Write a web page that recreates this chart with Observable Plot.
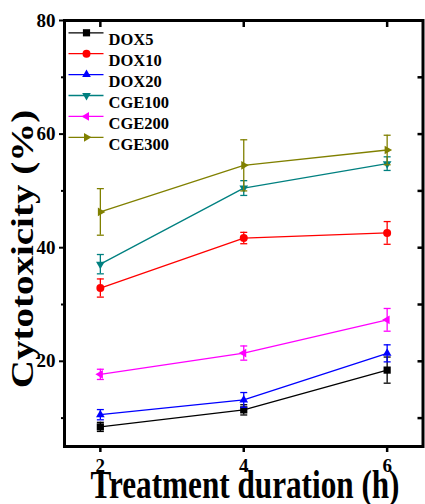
<!DOCTYPE html>
<html><head><meta charset="utf-8">
<script src="https://cdn.jsdelivr.net/npm/d3@7"></script>
<script src="https://cdn.jsdelivr.net/npm/@observablehq/plot@0.6"></script>
<style>
body{margin:0;background:#fff;}
#chart svg{display:block;}
</style></head><body><div id="chart"></div>
<script>
// ---- data ----
const durations = [2, 4, 6];
const seriesNames = ["DOX5", "DOX10", "DOX20", "CGE100", "CGE200", "CGE300"];
const seriesColors = ["#000000", "#ff0000", "#0000ff", "#008080", "#ff00ff", "#808000"];
const seriesShapes = ["square", "circle", "up", "down", "left", "right"];
const dox5 = [8.45, 11.45, 18.45];
const dox5Err = [0.8, 0.9, 2.3];
const dox10 = [32.9, 41.7, 42.6];
const dox10Err = [1.6, 1.0, 2.0];
const dox20 = [10.6, 13.2, 21.4];
const dox20Err = [0.9, 1.3, 1.5];
const cge100 = [37.1, 50.5, 54.8];
const cge100Err = [1.7, 1.3, 1.2];
const cge200 = [17.7, 21.45, 27.3];
const cge200Err = [0.9, 1.25, 2.0];
const cge300 = [46.3, 54.5, 57.2];
const cge300Err = [4.1, 4.5, 2.6];
const yTicks = [20, 40, 60, 80];
const yMinorTicks = [10, 30, 50, 70];
const yAllTicks = [10, 20, 30, 40, 50, 60, 70, 80];
const xTicks = [2, 4, 6];
const xTitle = "Treatment duration (h)";
const yTitle = "Cytotoxicity (%)";

const seriesValues = [dox5, dox10, dox20, cge100, cge200, cge300];
const seriesErrs = [dox5Err, dox10Err, dox20Err, cge100Err, cge200Err, cge300Err];

// ---- custom symbols ----
function triangle(dir) {
  const rot = {up: 0, right: 90, down: 180, left: -90}[dir] * Math.PI / 180;
  return {draw(ctx, size) {
    const c = Math.sqrt(size / Math.PI) * 1.25;
    const pts = [[0, -c], [c * Math.sqrt(3) / 2, c / 2], [-c * Math.sqrt(3) / 2, c / 2]]
      .map(([x, y]) => [x * Math.cos(rot) - y * Math.sin(rot), x * Math.sin(rot) + y * Math.cos(rot)]);
    ctx.moveTo(pts[0][0], pts[0][1]);
    ctx.lineTo(pts[1][0], pts[1][1]);
    ctx.lineTo(pts[2][0], pts[2][1]);
    ctx.closePath();
  }};
}
const squareSym = {draw(ctx, size) { const h = Math.sqrt(size / Math.PI) * 0.9; ctx.rect(-h, -h, 2 * h, 2 * h); }};
const circleSym = {draw(ctx, size) { const r = Math.sqrt(size / Math.PI); ctx.moveTo(r, 0); ctx.arc(0, 0, r, 0, 2 * Math.PI); }};
function hline(halfWidth) {
  return {draw(ctx) { ctx.moveTo(-halfWidth, 0); ctx.lineTo(halfWidth, 0); }};
}
function symbolFor(shape) {
  if (shape === "square") return squareSym;
  if (shape === "circle") return circleSym;
  return triangle(shape);
}

const font = "'Liberation Serif', 'Times New Roman', serif";

const marks = [];
seriesNames.forEach((name, i) => {
  const rows = durations.map((d, j) => ({series: name, duration: d, value: seriesValues[i][j], err: seriesErrs[i][j]}));
  const color = seriesColors[i];
  marks.push(
    Plot.ruleX(rows, {x: "duration", y1: d => d.value - d.err, y2: d => d.value + d.err, stroke: color, strokeWidth: 1.3}),
    Plot.dot(rows, {x: "duration", y: d => d.value - d.err, symbol: hline(3.5), stroke: color, fill: "none", strokeWidth: 1.3}),
    Plot.dot(rows, {x: "duration", y: d => d.value + d.err, symbol: hline(3.5), stroke: color, fill: "none", strokeWidth: 1.3}),
    Plot.line(rows, {x: "duration", y: "value", stroke: color, strokeWidth: 1.3}),
    Plot.dot(rows, {x: "duration", y: "value", symbol: symbolFor(seriesShapes[i]), r: 4, fill: color, stroke: "none"})
  );
  // legend entry
  const dy = 12.3 + i * 20.9;
  marks.push(
    Plot.dot([name], {frameAnchor: "top-left", dx: 21.5, dy, symbol: hline(17.5), stroke: color, fill: "none", strokeWidth: 1.3}),
    Plot.dot([name], {frameAnchor: "top-left", dx: 22, dy, symbol: symbolFor(seriesShapes[i]), r: 4, fill: color, stroke: "none"}),
    Plot.text([name], {frameAnchor: "top-left", dx: 44, dy: dy + 0.5, text: d => d, textAnchor: "start", fontSize: 16.5, fontWeight: "bold", fill: "#000"})
  );
});

const chart = Plot.plot({
  width: 425,
  height: 504,
  marginLeft: 64,
  marginRight: 2.5,
  marginTop: 20,
  marginBottom: 58,
  style: {fontFamily: font, background: "#fff", color: "#000"},
  x: {domain: [1.5, 6.5], axis: null},
  y: {domain: [5, 80], axis: null},
  marks: [
    ...marks,
    Plot.axisY({anchor: "left", ticks: yTicks, tickSize: 5, tickPadding: 4, strokeWidth: 2, fontSize: 19, fontWeight: "bold", label: null, tickFormat: d => String(d)}),
    Plot.axisY({anchor: "left", ticks: yMinorTicks, tickSize: 3, strokeWidth: 2, tickFormat: () => "", label: null}),
    Plot.axisY({anchor: "right", ticks: yAllTicks, tickSize: -6, strokeWidth: 2.5, tickFormat: () => "", label: null}),
    Plot.axisX({anchor: "bottom", ticks: xTicks, tickSize: 6, tickPadding: 6, strokeWidth: 2.5, fontSize: 19, fontWeight: "bold", label: null, tickFormat: d => String(d)}),
    Plot.axisX({anchor: "top", ticks: xTicks, tickSize: -6, strokeWidth: 2.5, tickFormat: () => "", label: null}),
    Plot.frame({stroke: "#000", strokeWidth: 3})
  ]
});

document.getElementById("chart").appendChild(chart);

const svg = d3.select(chart);
svg.append("text")
  .attr("transform", "translate(245,498) scale(0.78,1)")
  .attr("text-anchor", "middle")
  .style("font-family", font)
  .style("font-size", "40px")
  .style("font-weight", "bold")
  .attr("fill", "#000")
  .text(xTitle);
svg.append("text")
  .attr("transform", "translate(33,249) rotate(-90) scale(1,0.82)")
  .attr("text-anchor", "middle")
  .style("font-family", font)
  .style("font-size", "39px")
  .style("font-weight", "bold")
  .attr("fill", "#000")
  .text(yTitle);
</script>
</body></html>
